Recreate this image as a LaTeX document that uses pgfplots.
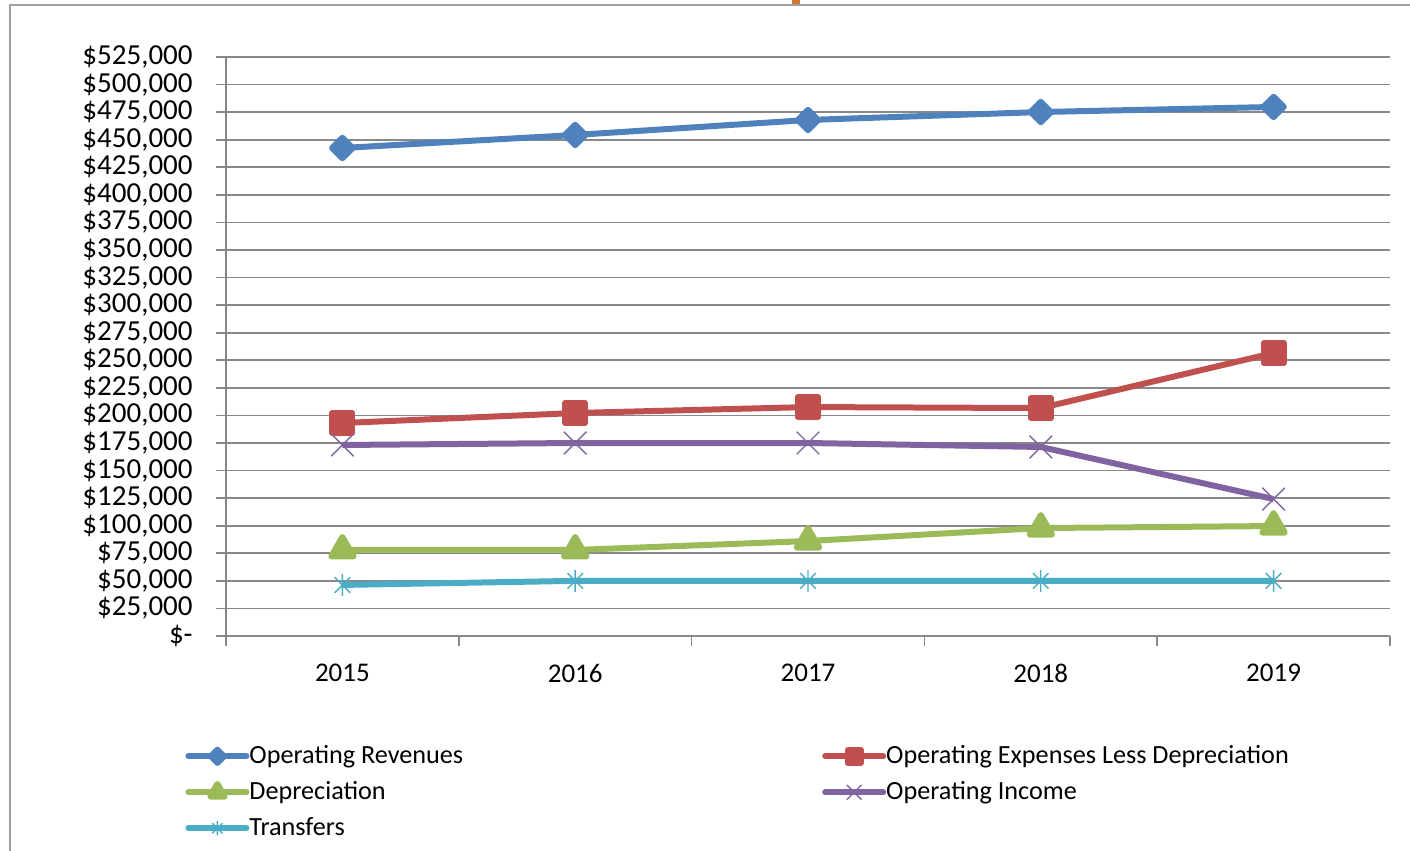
\documentclass[border=0pt]{standalone}
\usepackage{pgfplots}
\pgfplotsset{compat=1.18}
\usepackage{fontspec}
\setmainfont{Carlito}
\definecolor{cBlue}{HTML}{4F81BD}
\definecolor{cRed}{HTML}{C0504D}
\definecolor{cGreen}{HTML}{9BBB59}
\definecolor{cPurple}{HTML}{8064A2}
\definecolor{cCyan}{HTML}{4BACC6}
\definecolor{cGrid}{HTML}{888888}
\definecolor{cFrame}{HTML}{A0A0A0}
\definecolor{cOrange}{RGB}{205,120,50}
\pgfdeclareplotmark{xstar}{%
  \pgfpathmoveto{\pgfqpoint{-.7071\pgfplotmarksize}{-.7071\pgfplotmarksize}}%
  \pgfpathlineto{\pgfqpoint{.7071\pgfplotmarksize}{.7071\pgfplotmarksize}}%
  \pgfpathmoveto{\pgfqpoint{-.7071\pgfplotmarksize}{.7071\pgfplotmarksize}}%
  \pgfpathlineto{\pgfqpoint{.7071\pgfplotmarksize}{-.7071\pgfplotmarksize}}%
  \pgfpathmoveto{\pgfqpoint{0pt}{-\pgfplotmarksize}}%
  \pgfpathlineto{\pgfqpoint{0pt}{\pgfplotmarksize}}%
  \pgfusepathqstroke}
\begin{document}
\begin{tikzpicture}
\path[use as bounding box] (0,0) rectangle (705pt,-425.5pt);
\draw[cFrame, line width=1pt] (5pt,-425.5pt) -- (5pt,-2.5pt) -- (705pt,-2.5pt);
\fill[cOrange] (396pt,0pt) rectangle (400pt,-2pt);
\begin{axis}[
  at={(113pt,-318pt)}, anchor=south west,
  scale only axis, width=582pt, height=289.5pt,
  xmin=-0.5, xmax=4.5, ymin=0, ymax=525000,
  scaled y ticks=false,
  axis x line*=bottom, axis y line*=left,
  axis line style={cGrid, line width=0.8pt, -},
  tick align=outside,
  major tick length=5pt,
  tick style={cGrid, line width=0.8pt},
  ymajorgrids, grid style={cGrid, line width=0.8pt},
  ytick={0,25000,50000,75000,100000,125000,150000,175000,200000,225000,250000,275000,300000,325000,350000,375000,400000,425000,450000,475000,500000,525000},
  yticklabels={{\$-},{\$25,000},{\$50,000},{\$75,000},{\$100,000},{\$125,000},{\$150,000},{\$175,000},{\$200,000},{\$225,000},{\$250,000},{\$275,000},{\$300,000},{\$325,000},{\$350,000},{\$375,000},{\$400,000},{\$425,000},{\$450,000},{\$475,000},{\$500,000},{\$525,000}},
  yticklabel style={font=\fontsize{14.5}{14.5}\selectfont, inner sep=0pt, xshift=-11.5pt},
  xtick={-0.5,0.5,1.5,2.5,3.5,4.5}, xticklabels={},
  extra x ticks={0,1,2,3,4},
  extra x tick labels={2015,2016,2017,2018,2019},
  extra x tick style={major tick length=0pt, tick style={draw=none}},
  xticklabel style={font=\fontsize{13.5}{13.5}\selectfont, inner sep=0pt, yshift=-14pt},
  every axis plot/.append style={line width=3pt, line join=round},
  legend columns=2,
  legend cell align=left,
  legend style={at={(-0.0352,-0.176)}, anchor=north west, draw=none, fill=none,
    inner sep=0pt, row sep=0pt, column sep=0pt,
    font=\fontsize{13.1}{13.1}\selectfont,
    /tikz/every even column/.append style={column sep=179.5pt},
    nodes={inner sep=0pt, minimum height=18pt}},
  legend image code/.code={
    \draw[#1, line cap=round, mark=none] (0pt,0pt) -- (29pt,0pt);
    \draw[#1, every mark/.append style={scale=0.65}] plot coordinates {(14.5pt,0pt)};
  },
]
\addplot[cBlue, mark=square*, mark size=3.6pt, mark options={rotate=45, solid}] coordinates {(0,442500) (1,454300) (2,467900) (3,475100) (4,479700)};
\addlegendentry{Operating Revenues}
\addplot[cRed, mark=square*, mark size=5pt] coordinates {(0,193100) (1,202200) (2,207600) (3,206700) (4,256600)};
\addlegendentry{Operating Expenses Less Depreciation}
\addplot[cGreen, mark=triangle*, mark size=6.5pt] coordinates {(0,78000) (1,78000) (2,86100) (3,97900) (4,99700)};
\addlegendentry{Depreciation}
\addplot[cPurple, mark=x, mark size=8pt, mark options={line width=0.7pt}] coordinates {(0,173200) (1,175000) (2,175000) (3,171400) (4,124200)};
\addlegendentry{Operating Income}
\addplot[cCyan, mark=xstar, mark size=5.5pt, mark options={line width=0.7pt}] coordinates {(0,46300) (1,50000) (2,50000) (3,50000) (4,50000)};
\addlegendentry{Transfers}
\end{axis}
\end{tikzpicture}
\end{document}
